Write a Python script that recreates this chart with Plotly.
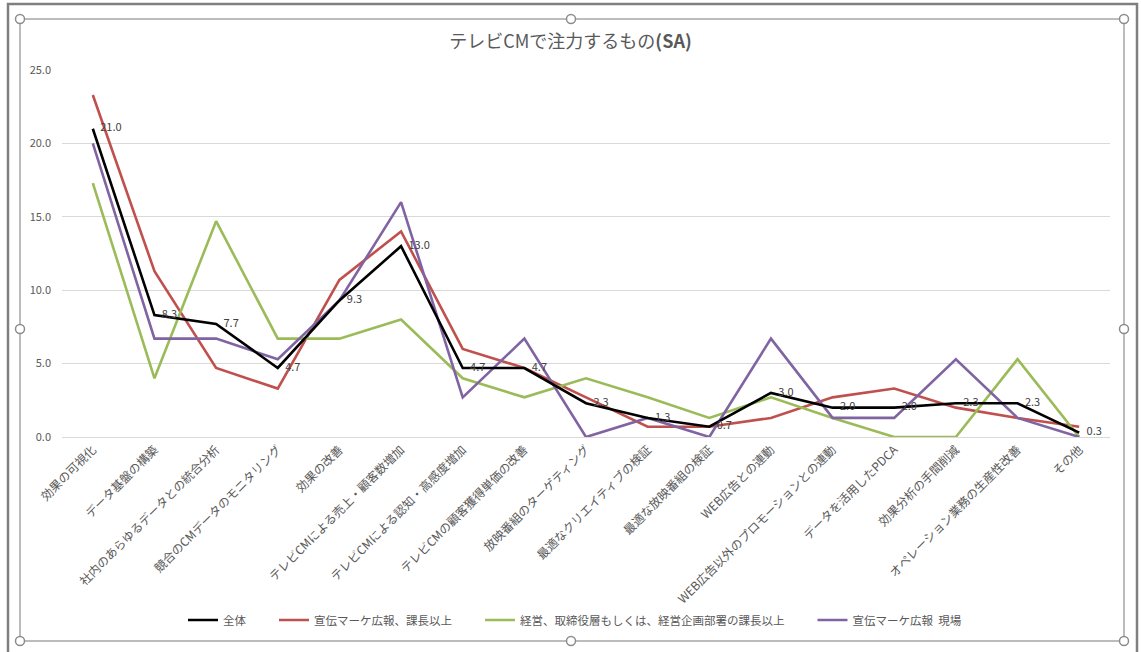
import plotly.graph_objects as go

categories = [
    "効果の可視化", "データ基盤の構築", "社内のあらゆるデータとの統合分析",
    "競合のCMデータのモニタリング", "効果の改善", "テレビCMによる売上・顧客数増加",
    "テレビCMによる認知・高感度増加", "テレビCMの顧客獲得単価の改善", "放映番組のターゲティング",
    "最適なクリエイティブの検証", "最適な放映番組の検証", "WEB広告との連動",
    "WEB広告以外のプロモーションとの連動", "データを活用したPDCA", "効果分析の手間削減",
    "オペレーション業務の生産性改善", "その他",
]

all_total = [21.0, 8.3, 7.7, 4.7, 9.3, 13.0, 4.7, 4.7, 2.3, 1.3, 0.7, 3.0, 2.0, 2.0, 2.3, 2.3, 0.3]
mgr_senior = [23.3, 11.3, 4.7, 3.3, 10.7, 14.0, 6.0, 4.7, 2.7, 0.7, 0.7, 1.3, 2.7, 3.3, 2.0, 1.3, 0.7]
executive = [17.3, 4.0, 14.7, 6.7, 6.7, 8.0, 4.0, 2.7, 4.0, 2.7, 1.3, 2.7, 1.3, 0.0, 0.0, 5.3, 0.0]
field_staff = [20.0, 6.7, 6.7, 5.3, 9.3, 16.0, 2.7, 6.7, 0.0, 1.3, 0.0, 6.7, 1.3, 1.3, 5.3, 1.3, 0.0]

series_names = ["全体", "宣伝マーケ広報、課長以上", "経営、取締役層もしくは、経営企画部署の課長以上", "宣伝マーケ広報  現場"]
series_values = [all_total, mgr_senior, executive, field_staff]
series_colors = ["#000000", "#c0504d", "#9bbb59", "#8064a2"]

FONT = "Noto Sans CJK JP"
W, H = 1141, 652
L, R, T, B = 62, 1110, 70, 437

fig = go.Figure()

draw_order = [1, 2, 3, 0]
for i in draw_order:
    legend_label = series_names[i] + ("\u3000\u3000" if i < 3 else "")
    fig.add_trace(go.Scatter(
        x=categories, y=series_values[i], name=legend_label, mode="lines",
        line=dict(color=series_colors[i], width=2.6), legendrank=i + 1,
        hoverinfo="x+y",
    ))

fig.add_trace(go.Scatter(
    x=categories, y=all_total, mode="text",
    text=["\u00a0\u00a0\u00a0" + f"{v:.1f}" for v in all_total], textposition="middle right",
    textfont=dict(family=FONT, size=11, color="#404040"),
    showlegend=False, hoverinfo="skip",
))


def px(xp):
    return (xp - L) / (R - L)


def py(yp):
    return (B - yp) / (B - T)


shapes = []
# outer frame
shapes.append(dict(type="rect", xref="paper", yref="paper",
                   x0=px(8), x1=px(1137), y0=py(4), y1=py(700),
                   line=dict(color="#7f7f7f", width=2.5), layer="above"))
# inner selection frame
shapes.append(dict(type="rect", xref="paper", yref="paper",
                   x0=px(20), x1=px(1124), y0=py(19), y1=py(641),
                   line=dict(color="#a6a6a6", width=1.5), layer="above"))
handles = [(20, 19), (571, 19), (1124, 19), (20, 329), (1124, 329), (20, 641), (571, 641), (1124, 641)]
rr = 4.5
for hx, hy in handles:
    shapes.append(dict(type="circle", xref="paper", yref="paper",
                       x0=px(hx - rr), x1=px(hx + rr), y0=py(hy + rr), y1=py(hy - rr),
                       fillcolor="white", line=dict(color="#8c8c8c", width=1.5), layer="above"))

fig.update_layout(
    width=W, height=H,
    margin=dict(l=L, r=W - R, t=T, b=H - B, pad=0),
    paper_bgcolor="white", plot_bgcolor="white",
    font=dict(family=FONT, size=11, color="#595959"),
    title=dict(text="テレビCMで注力するもの<b>(SA)</b>", x=0.5, xanchor="center",
               y=1 - 42 / H, yanchor="middle", yref="container",
               font=dict(family=FONT, size=18, color="#595959")),
    showlegend=True,
    legend=dict(orientation="h", x=px(575), xanchor="center", y=py(620), yanchor="middle",
                font=dict(family=FONT, size=11.5, color="#595959"),
                itemwidth=30, traceorder="normal", bgcolor="rgba(0,0,0,0)"),
    shapes=shapes,
)

fig.update_xaxes(
    type="category", tickangle=-45, showgrid=False, ticks="",
    showline=True, linecolor="#d9d9d9", linewidth=1,
    tickfont=dict(family=FONT, size=12, color="#595959"),
    range=[-0.5, len(categories) - 0.5],
)
fig.update_yaxes(
    range=[0, 25], dtick=5, tickformat=".1f", showgrid=True, gridcolor="#d9d9d9",
    gridwidth=1, zeroline=False, ticks="", ticklabelstandoff=10,
    tickfont=dict(family=FONT, size=11, color="#595959"),
)

fig.write_html("out.html")
